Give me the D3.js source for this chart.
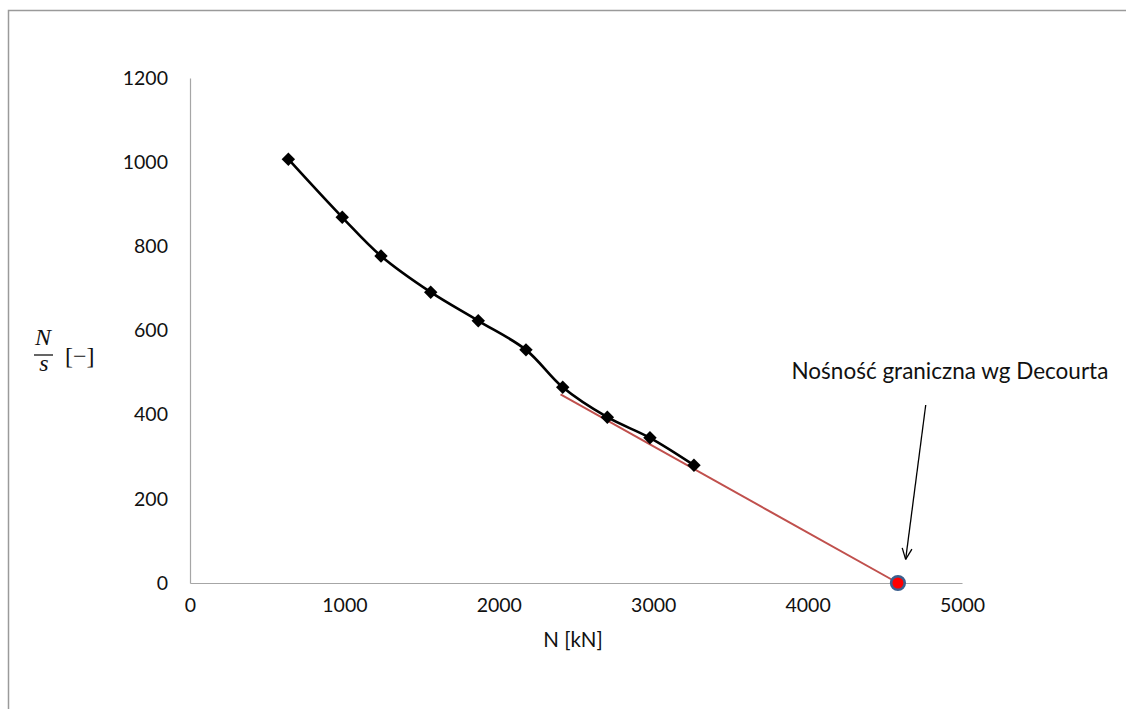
<!DOCTYPE html>
<html>
<head>
<meta charset="utf-8">
<script src="https://cdn.jsdelivr.net/npm/d3@7"></script>
<style>
  html, body { margin: 0; padding: 0; background: #fff; }
  svg text { font-family: Lato, "Open Sans", sans-serif; fill: #111; }
</style>
</head>
<body>
<svg id="chart" width="1126" height="709"></svg>
<script>
// Measured load N [kN] and N/s ratio
const loadKN = [637, 986, 1237, 1559, 1867, 2176, 2414, 2703, 2979, 3264];
const ratioNs = [1007, 869, 777, 691, 623, 554, 465, 394, 345, 280];

// Decourt extrapolation line and the resulting limit bearing capacity
const limitLineN = [2400, 4585];
const limitLineR = [448, 0];
const limitN = 4585;
const limitR = 0;

// Axis ticks
const xTicks = [0, 1000, 2000, 3000, 4000, 5000];
const yTicks = [0, 200, 400, 600, 800, 1000, 1200];

const annotationText = "Nośność graniczna wg Decourta";
const xTitle = "N [kN]";

const svg = d3.select("#chart");

// Outer frame
svg.append("path")
  .attr("d", "M8.5,709 V10.5 H1126")
  .attr("fill", "none")
  .attr("stroke", "#9a9a9a")
  .attr("stroke-width", 1.5);

const x = d3.scaleLinear().domain([0, 5000]).range([190, 962]);
const y = d3.scaleLinear().domain([0, 1200]).range([583, 78]);

// Axes
const fmt = d3.format("d");
const xAxis = svg.append("g")
  .attr("transform", `translate(0,${y(0)})`)
  .call(d3.axisBottom(x).tickValues(xTicks).tickFormat(fmt).tickSize(0).tickPadding(15));
const yAxis = svg.append("g")
  .attr("transform", `translate(${x(0)},0)`)
  .call(d3.axisLeft(y).tickValues(yTicks).tickFormat(fmt).tickSize(0).tickPadding(22));

[xAxis, yAxis].forEach(g => {
  g.select(".domain").attr("stroke", "#a6a6a6").attr("stroke-width", 1.2);
  g.selectAll("text")
    .style("font-family", "Lato, 'Open Sans', sans-serif")
    .style("font-size", "19.5px")
    .attr("fill", "#111");
});

// X axis title
svg.append("text")
  .attr("x", (x(0) + x(5000)) / 2 - 3)
  .attr("y", 647)
  .attr("text-anchor", "middle")
  .style("font-size", "20.5px")
  .text(xTitle);

// Y axis title: N over s, then [−]
const yt = svg.append("g").attr("transform", "translate(43,355)");
yt.append("text")
  .attr("x", 0).attr("y", -10)
  .attr("text-anchor", "middle")
  .style("font-family", "'Liberation Serif', 'DejaVu Serif', serif")
  .style("font-style", "italic")
  .style("font-size", "24px")
  .text("N");
yt.append("line")
  .attr("x1", -9).attr("x2", 10)
  .attr("y1", 0).attr("y2", 0)
  .attr("stroke", "#111").attr("stroke-width", 1.3);
yt.append("text")
  .attr("x", 1).attr("y", 16)
  .attr("text-anchor", "middle")
  .style("font-family", "'Liberation Serif', 'DejaVu Serif', serif")
  .style("font-style", "italic")
  .style("font-size", "24px")
  .text("s");
yt.append("text")
  .attr("x", 22).attr("y", 9)
  .style("font-family", "'Liberation Serif', 'DejaVu Serif', serif")
  .style("font-size", "24px")
  .text("[−]");

// Extrapolation line
svg.append("path")
  .datum(limitLineN.map((n, i) => [n, limitLineR[i]]))
  .attr("fill", "none")
  .attr("stroke", "#c0504d")
  .attr("stroke-width", 2)
  .attr("d", d3.line().x(d => x(d[0])).y(d => y(d[1])));

// Measured curve
const pts = loadKN.map((n, i) => [n, ratioNs[i]]);
svg.append("path")
  .datum(pts)
  .attr("fill", "none")
  .attr("stroke", "#000")
  .attr("stroke-width", 2.6)
  .attr("d", d3.line().x(d => x(d[0])).y(d => y(d[1])).curve(d3.curveCatmullRom.alpha(0.5)));

// Diamond markers
svg.selectAll("path.marker")
  .data(pts)
  .join("path")
  .attr("class", "marker")
  .attr("d", d3.symbol().type(d3.symbolSquare).size(90)())
  .attr("transform", d => `translate(${x(d[0])},${y(d[1])}) rotate(45)`)
  .attr("fill", "#000");

// Limit point
svg.append("circle")
  .attr("cx", x(limitN))
  .attr("cy", y(limitR))
  .attr("r", 6.8)
  .attr("fill", "#ff0000")
  .attr("stroke", "#3b5f8e")
  .attr("stroke-width", 2.6);

// Annotation with arrow
const arrowFrom = [4765, 423];
const arrowTo = [4635, 56];
const ax1 = x(arrowFrom[0]), ay1 = y(arrowFrom[1]);
const ax2 = x(arrowTo[0]), ay2 = y(arrowTo[1]);
svg.append("line")
  .attr("x1", ax1).attr("y1", ay1)
  .attr("x2", ax2).attr("y2", ay2)
  .attr("stroke", "#000").attr("stroke-width", 1.3);
const ang = Math.atan2(ay1 - ay2, ax1 - ax2);
const headLen = 12, spread = 0.42;
[ang - spread, ang + spread].forEach(a => {
  svg.append("line")
    .attr("x1", ax2).attr("y1", ay2)
    .attr("x2", ax2 + headLen * Math.cos(a))
    .attr("y2", ay2 + headLen * Math.sin(a))
    .attr("stroke", "#000").attr("stroke-width", 1.3);
});

svg.append("text")
  .attr("x", x(3896))
  .attr("y", y(487) + 1)
  .style("font-size", "22.5px")
  .text(annotationText);
</script>
</body>
</html>
